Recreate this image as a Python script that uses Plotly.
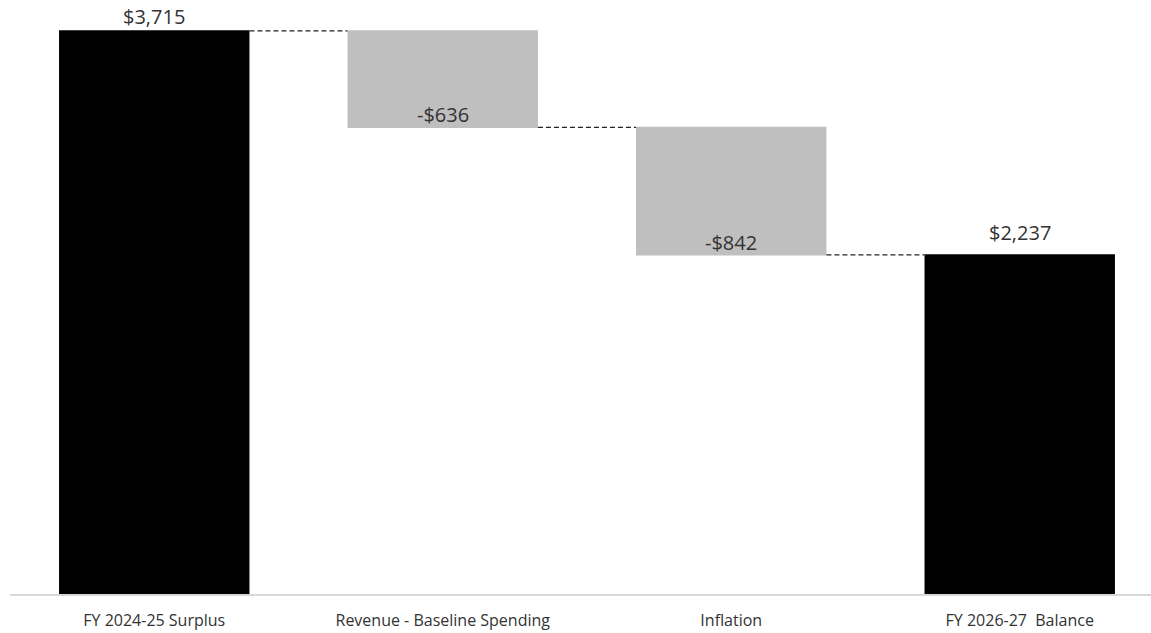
import plotly.graph_objects as go

categories = ["FY 2024-25 Surplus", "Revenue - Baseline Spending", "Inflation", "FY 2026-27  Balance"]
values = [3715, -636, -842, 2237]
measures = ["absolute", "relative", "relative", "total"]
labels = ["$3,715", "-$636", "-$842", "$2,237"]

fig = go.Figure()
fig.add_trace(go.Waterfall(
    x=categories,
    y=values,
    measure=measures,
    width=0.66,
    totals=dict(marker=dict(color="#000000")),
    decreasing=dict(marker=dict(color="#bfbfbf")),
    increasing=dict(marker=dict(color="#bfbfbf")),
    connector=dict(mode="between", line=dict(color="#222222", width=1.2, dash="5px,3px")),
    hoverinfo="skip",
    showlegend=False,
))

# annotation positions derived from data
ends = []
run = 0
for v, m in zip(values, measures):
    if m == "absolute":
        run = v
    elif m == "relative":
        run += v
    ends.append(run)

yshifts = [0, -2, -2, 8]
for cat, y, lab, ys in zip(categories, ends, labels, yshifts):
    fig.add_annotation(x=cat, y=y, text=lab, showarrow=False, yanchor="bottom",
                       yshift=ys, borderpad=0,
                       font=dict(family="Open Sans", size=20, color="#333333"))

fig.update_layout(
    width=1151, height=633,
    margin=dict(l=10, r=0, t=0, b=39),
    paper_bgcolor="white", plot_bgcolor="white",
    font=dict(family="Open Sans", color="#333333"),
    xaxis=dict(range=[-0.5, 3.455], showline=True, linecolor="#d9d9d9", linewidth=2,
               showgrid=False, ticks="", tickfont=dict(size=16, color="#333333"),
               ticklabelstandoff=11, fixedrange=True),
    yaxis=dict(range=[0, 3919], visible=False, showgrid=False, zeroline=False, fixedrange=True),
)

fig.write_html("out.html",
               config={"displayModeBar": False, "staticPlot": True},
               post_script="document.body.style.margin='0';document.body.style.overflow='hidden';")
